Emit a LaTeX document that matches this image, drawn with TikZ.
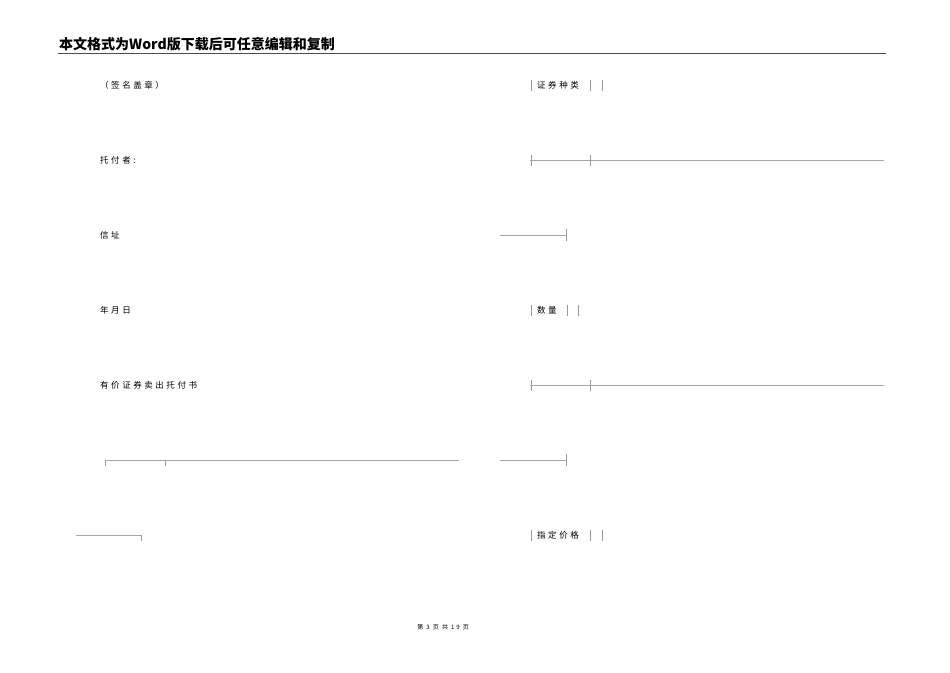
\documentclass[tikz,border=0pt]{standalone}
\usepackage{fontspec}
\newfontfamily\cjk{Noto Sans CJK SC}
\newfontfamily\cjksp[LetterSpace=30]{Noto Sans CJK SC}
\tikzset{txt/.style={anchor=west,inner sep=0pt,font=\cjksp\fontsize{8.5pt}{10pt}\selectfont},
 ln/.style={draw=gray!70,line width=0.6pt},
 bar/.style={draw=gray!80,line width=0.6pt}}
\begin{document}
\begin{tikzpicture}[x=1pt,y=-1pt]
\useasboundingbox[fill=white] (0,0) rectangle (950,672);
\node[anchor=west,inner sep=0pt,font=\cjk\bfseries\fontsize{14pt}{16pt}\selectfont] (hd) at (59,44) {本文格式为Word版下载后可任意编辑和复制};
\draw[draw=black!70,line width=0.8pt] (58,53) coordinate (h1) -- (886,53) coordinate (h2);
\node[txt] (a) at (100,85) {（签名盖章）};
\node[txt] (b) at (100,160) {托付者:};
\node[txt] (c) at (100,235) {信址};
\node[txt] (d) at (100,310) {年月日};
\node[txt] (e) at (100,385) {有价证券卖出托付书};
% right column
\node[txt] (r1) at (537,85) {证券种类};
\foreach \x in {531,590,602} \draw[bar] (\x,80) -- (\x,91);
\node[txt] (r2) at (537,310) {数量};
\foreach \x in {531,567,578} \draw[bar] (\x,305) -- (\x,316);
\node[txt] (r3) at (537,535) {指定价格};
\foreach \x in {531,590,602} \draw[bar] (\x,530) -- (\x,541);
\foreach \y in {160,385}{
  \draw[ln] (530,\y) -- (884,\y);
  \draw[bar] (531,\y-5) -- (531,\y+6);
  \draw[bar] (590,\y-5) -- (590,\y+6);
}
\foreach \y in {235,460}{
  \draw[ln] (500,\y) -- (566,\y);
  \draw[bar] (566,\y-6) -- (566,\y+6);
}
\draw[ln] (105,460) -- (459,460);
\draw[bar] (105,460) -- (105,466);
\draw[bar] (165,460) -- (165,466);
\draw[ln] (76,535) -- (141,535);
\draw[bar] (141,535) -- (141,541);
\node[anchor=center,inner sep=0pt,font=\cjksp\fontsize{6pt}{7pt}\selectfont] (ft) at (443,627) {第 3 页 共 19 页};
\end{tikzpicture}
\end{document}
